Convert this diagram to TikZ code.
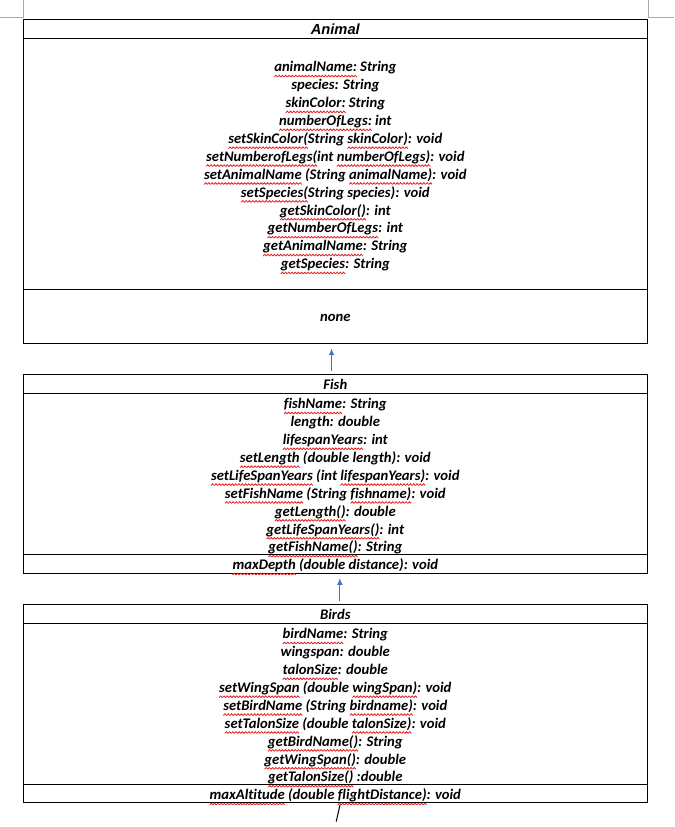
\documentclass[tikz,border=0pt]{standalone}
\usepackage{fontspec}
\setmainfont{Carlito}[Ligatures=NoCommon]
\newfontfamily\arialfont{Liberation Sans}
\usetikzlibrary{arrows.meta,calc}

\definecolor{umlblue}{RGB}{68,114,196}
\definecolor{wavered}{RGB}{232,28,28}
\definecolor{pagemark}{RGB}{170,170,170}

% one period of the red spelling squiggle, repeated with \xleaders
\newsavebox\wavebox
\newsavebox\sqtext
\AtBeginDocument{%
  \sbox\wavebox{%
    \begin{pgfpicture}%
      \pgfsetlinewidth{0.6pt}%
      \pgfsetstrokecolor{wavered}%
      \pgfpathmoveto{\pgfpoint{0pt}{0pt}}%
      \pgfpathlineto{\pgfpoint{1.2pt}{1.3pt}}%
      \pgfpathlineto{\pgfpoint{2.4pt}{0pt}}%
      \pgfusepath{stroke}%
      \pgfresetboundingbox
      \pgfpathrectangle{\pgfpointorigin}{\pgfpoint{2.4pt}{1.3pt}}%
      \pgfusepath{use as bounding box}%
    \end{pgfpicture}}}
\newcommand\sq[1]{\sbox\sqtext{#1}\leavevmode
  \rlap{\raisebox{-3.9pt}[0pt][0pt]{\hbox to \wd\sqtext{\xleaders\copy\wavebox\hfill}}}%
  \usebox\sqtext}

\tikzset{
  classbox/.style={draw, line width=0.8pt, inner sep=0pt, anchor=north west,
    minimum width=468pt},
  sepline/.style={line width=0.8pt},
  rowtext/.style={anchor=base, inner sep=0pt,
    font=\fontsize{11pt}{13.4pt}\selectfont\bfseries\itshape},
  headtext/.style={anchor=base, inner sep=0pt,
    font=\fontsize{11pt}{13.4pt}\selectfont\bfseries\itshape},
  inherit/.style={draw=umlblue, line width=0.75pt,
    -{Latex[length=5pt,width=4.2pt]}},
  pagecorner/.style={draw=pagemark, line width=0.75pt},
}

\begin{document}
\begin{tikzpicture}[x=0.75pt,y=-0.75pt]
  \useasboundingbox (0,0) rectangle (674,827);

  % page corner marks
  \draw[pagecorner] (23.3,0) -- (23.3,18) -- (0,18);
  \draw[pagecorner] (648.7,0) -- (648.7,18) -- (674,18);

  % ---------- Animal ----------
  \node[classbox, minimum height=242.55pt] (animal) at (23.3,19.3) {};
  \draw[sepline] (23.3,38.3) -- (647.3,38.3);
  \draw[sepline] (23.3,289.3) -- (647.3,289.3);
  \node[headtext, font=\fontsize{11pt}{13.4pt}\selectfont\arialfont\bfseries\itshape]
    (animal-title) at (335.3,34.3) {Animal};
  \foreach \t [count=\i] in {
      {\sq{animalName:} String},
      {species: String},
      {\sq{skinColor:} String},
      {\sq{numberOfLegs:} int},
      {\sq{setSkinColor(}String \sq{skinColor)}: void},
      {\sq{setNumberofLegs(}int \sq{numberOfLegs)}: void},
      {\sq{setAnimalName} (String \sq{animalName)}: void},
      {\sq{setSpecies(}String species): void},
      {\sq{getSkinColor()}: int},
      {\sq{getNumberOfLegs}: int},
      {\sq{getAnimalName}: String},
      {\sq{getSpecies}: String}}
    \node[rowtext] (animal-r\i) at (335.3,{71.8+17.9*(\i-1)}) {\t};
  \node[headtext] (animal-none) at (335.3,321.6) {none};

  % ---------- Fish ----------
  \node[classbox, minimum height=149.25pt] (fish) at (23.3,374.3) {};
  \draw[sepline] (23.3,393.3) -- (647.3,393.3);
  \draw[sepline] (23.3,554.3) -- (647.3,554.3);
  \node[headtext] (fish-title) at (335.3,389.6) {Fish};
  \foreach \t [count=\i] in {
      {\sq{fishName}: String},
      {length: double},
      {\sq{lifespanYears}: int},
      {\sq{setLength} (double length): void},
      {\sq{setLifeSpanYears} (int \sq{lifespanYears)}: void},
      {\sq{setFishName} (String \sq{fishname)}: void},
      {\sq{getLength()}: double},
      {\sq{getLifeSpanYears()}: int},
      {\sq{getFishName()}: String}}
    \node[rowtext] (fish-r\i) at (335.3,{408.7+17.9*(\i-1)}) {\t};
  \node[rowtext] (fish-op) at (335.3,569.7) {\sq{maxDepth} (double distance): void};

  % ---------- Birds ----------
  \node[classbox, minimum height=148.5pt] (birds) at (23.3,604.3) {};
  \draw[sepline] (23.3,623.3) -- (647.3,623.3);
  \draw[sepline] (23.3,784.3) -- (647.3,784.3);
  \node[headtext] (birds-title) at (335.3,619.6) {Birds};
  \foreach \t [count=\i] in {
      {\sq{birdName}: String},
      {wingspan: double},
      {\sq{talonSize}: double},
      {\sq{setWingSpan} (double \sq{wingSpan)}: void},
      {\sq{setBirdName} (String \sq{birdname)}: void},
      {\sq{setTalonSize} (double \sq{talonSize)}: void},
      {\sq{getBirdName()}: String},
      {\sq{getWingSpan()}: double},
      {\sq{getTalonSize()} :double}}
    \node[rowtext] (birds-r\i) at (335.3,{638.7+17.9*(\i-1)}) {\t};
  \node[rowtext] (birds-op) at (335.3,799.7)
    {\sq{maxAltitude} (double \sq{flightDistance)}: void};

  % ---------- generalisation arrows ----------
  \draw[inherit, shorten <=2.85pt, shorten >=3.5pt]
    ($(fish.north)+(-4.3,0)$) -- ($(animal.south)+(-4.3,0)$);
  \draw[inherit, shorten <=2.85pt, shorten >=2.8pt]
    ($(birds.north)+(4,0)$) -- ($(fish.south)+(4,0)$);

  % loose line below Birds
  \coordinate (birds-tail) at (336.2,821.5);
  \draw[line width=0.75pt] ($(birds.south)+(4.2,1.5)$) -- (birds-tail);
\end{tikzpicture}
\end{document}
